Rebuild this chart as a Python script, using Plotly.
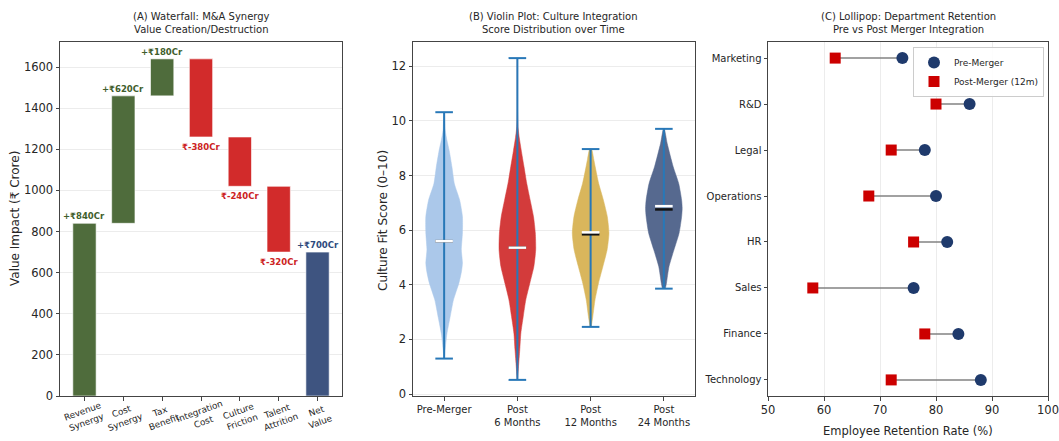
import plotly.graph_objects as go

# ---------------- Data ----------------
# (A) Waterfall
wf_categories = ["Revenue<br>Synergy", "Cost<br>Synergy", "Tax<br>Benefit", "Integration<br>Cost",
                 "Culture<br>Friction", "Talent<br>Attrition", "Net<br>Value"]
wf_changes = [840, 620, 180, -380, -240, -320]

# (B) Violin: density profiles (score level, relative width)
vio_groups = ["Pre-Merger", "Post<br>6 Months", "Post<br>12 Months", "Post<br>24 Months"]
vio_min = [1.30, 0.52, 2.46, 3.86]
vio_max = [10.32, 12.30, 8.97, 9.71]
vio_mean = [5.60, 5.36, 5.92, 6.88]
vio_median = [5.60, 5.36, 5.85, 6.76]
pre_levels = [1.3, 1.6, 2.2, 2.8, 3.45, 4.07, 4.5, 4.8, 5.28, 5.9, 6.5, 7.1, 7.7, 8.3, 8.9, 9.3, 9.66, 10.3]
pre_density = [0.01, 0.05, 0.15, 0.32, 0.51, 0.81, 0.95, 1.0, 0.94, 1.0, 1.0, 0.85, 0.56, 0.43, 0.28, 0.15, 0.06, 0.01]
p6_levels = [0.52, 1.0, 1.62, 2.23, 2.84, 3.45, 4.06, 4.67, 5.28, 5.9, 6.5, 7.1, 7.72, 8.33, 8.93, 9.4, 9.8, 10.5, 12.3]
p6_density = [0.01, 0.06, 0.13, 0.19, 0.32, 0.46, 0.68, 0.9, 1.0, 0.98, 0.88, 0.70, 0.51, 0.36, 0.21, 0.10, 0.03, 0.005, 0.0]
p12_levels = [2.46, 2.84, 3.45, 4.06, 4.67, 5.28, 5.89, 6.5, 7.1, 7.71, 8.32, 8.6, 8.97]
p12_density = [0.03, 0.12, 0.24, 0.43, 0.67, 0.9, 1.0, 0.91, 0.70, 0.44, 0.25, 0.17, 0.05]
p24_levels = [3.86, 4.06, 4.67, 5.28, 5.89, 6.5, 6.8, 7.1, 7.71, 8.32, 9.18, 9.71]
p24_density = [0.08, 0.14, 0.28, 0.55, 0.83, 0.97, 1.0, 0.97, 0.81, 0.51, 0.18, 0.02]
vio_colors = ["#abc8ea", "#d33b3b", "#d9b65c", "#56698f"]

# (C) Lollipop (bottom to top)
departments = ["Technology", "Finance", "Sales", "HR", "Operations", "Legal", "R&D", "Marketing"]
pre_merger = [88, 84, 76, 82, 80, 78, 86, 74]
post_merger = [72, 78, 58, 76, 68, 72, 80, 62]

FONT = "DejaVu Sans"
W, H = 1059, 441
TXT = "#262626"


def px_x(p):
    return p / W


def px_y(p):
    return 1 - p / H


fig = go.Figure()

# ---------------- (A) Waterfall ----------------
bases, heights, colors, label_y, label_anchor, label_col, labels = [], [], [], [], [], [], []
running = 0
for v in wf_changes:
    if v >= 0:
        bases.append(running)
        heights.append(v)
        colors.append("#4f6c3c")
        label_y.append(running + v)
        label_anchor.append("bottom")
        label_col.append("#3f5e2c")
        labels.append(f"+₹{v}Cr")
    else:
        bases.append(running + v)
        heights.append(-v)
        colors.append("#d22b2b")
        label_y.append(running + v)
        label_anchor.append("top")
        label_col.append("#cc2222")
        labels.append(f"₹{v}Cr")
    running += v
net = running
bases.append(0)
heights.append(net)
colors.append("#3e5480")
label_y.append(net)
label_anchor.append("bottom")
label_col.append("#2e4a7d")
labels.append(f"+₹{net}Cr")

xs_idx = list(range(len(wf_categories)))
fig.add_trace(go.Bar(x=xs_idx, y=heights, base=bases, width=0.6,
                     marker=dict(color=colors, line=dict(color="rgba(255,255,255,0.6)", width=1)),
                     xaxis="x", yaxis="y", showlegend=False, hoverinfo="skip"))

annotations = []
for i in xs_idx:
    annotations.append(dict(x=i, y=label_y[i], xref="x", yref="y", text=f"<b>{labels[i]}</b>",
                            showarrow=False, yanchor=label_anchor[i],
                            yshift=0 if label_anchor[i] == "bottom" else -3,
                            font=dict(size=8.5, color=label_col[i], family=FONT)))
    annotations.append(dict(x=i, y=px_y(416), xref="x", yref="paper", text=wf_categories[i],
                            showarrow=False, textangle=-20, xanchor="center", yanchor="middle",
                            font=dict(size=8.8, color=TXT, family=FONT)))

# ---------------- (B) Violins ----------------
profiles = [(pre_levels, pre_density), (p6_levels, p6_density), (p12_levels, p12_density), (p24_levels, p24_density)]
half_w = 0.25
for i, (lv, dn) in enumerate(profiles):
    pos = i + 1
    xs = [pos + half_w * d for d in dn] + [pos - half_w * d for d in reversed(dn)]
    ys = list(lv) + list(reversed(lv))
    fig.add_trace(go.Scatter(x=xs, y=ys, mode="lines", fill="toself", fillcolor=vio_colors[i],
                             line=dict(color=vio_colors[i], width=0.5, shape="spline", smoothing=0.6),
                             xaxis="x2", yaxis="y2", showlegend=False, hoverinfo="skip"))

cap = 0.12
wx, wy = [], []
for i in range(4):
    pos = i + 1
    wx += [pos, pos, None, pos - cap, pos + cap, None, pos - cap, pos + cap, None]
    wy += [vio_min[i], vio_max[i], None, vio_min[i], vio_min[i], None, vio_max[i], vio_max[i], None]
fig.add_trace(go.Scatter(x=wx, y=wy, mode="lines", line=dict(color="#2878b8", width=2),
                         xaxis="x2", yaxis="y2", showlegend=False, hoverinfo="skip"))

for vals, col in ((vio_median, "#111111"), (vio_mean, "#ffffff")):
    mx, my = [], []
    for i in range(4):
        pos = i + 1
        mx += [pos - cap, pos + cap, None]
        my += [vals[i], vals[i], None]
    fig.add_trace(go.Scatter(x=mx, y=my, mode="lines", line=dict(color=col, width=2.5),
                             xaxis="x2", yaxis="y2", showlegend=False, hoverinfo="skip"))

# ---------------- (C) Lollipop ----------------
ypos = list(range(len(departments)))
lx, ly = [], []
for i in ypos:
    lx += [post_merger[i], pre_merger[i], None]
    ly += [i, i, None]
fig.add_trace(go.Scatter(x=lx, y=ly, mode="lines", line=dict(color="rgba(130,130,130,0.75)", width=2),
                         xaxis="x3", yaxis="y3", showlegend=False, hoverinfo="skip"))
fig.add_trace(go.Scatter(x=pre_merger, y=ypos, mode="markers", name="Pre-Merger", legendrank=1,
                         marker=dict(symbol="circle", size=12, color="#1f3a6c"),
                         xaxis="x3", yaxis="y3"))
fig.add_trace(go.Scatter(x=post_merger, y=ypos, mode="markers", name="Post-Merger (12m)", legendrank=2,
                         marker=dict(symbol="square", size=11, color="#cc0000"),
                         xaxis="x3", yaxis="y3"))

# ---------------- Titles / labels ----------------
titles = [
    ("(A) Waterfall: M&A Synergy<br>Value Creation/Destruction", (60 + 342) / 2),
    ("(B) Violin Plot: Culture Integration<br>Score Distribution over Time", (413 + 695) / 2),
    ("(C) Lollipop: Department Retention<br>Pre vs Post Merger Integration", (768 + 1048) / 2),
]
for t, cx in titles:
    annotations.append(dict(x=px_x(cx), y=px_y(37), xref="paper", yref="paper", text=t, showarrow=False,
                            yanchor="bottom", xanchor="center",
                            font=dict(size=10, color=TXT, family=FONT)))
annotations.append(dict(x=px_x(15), y=px_y(219), xref="paper", yref="paper", text="Value Impact (₹ Crore)",
                        textangle=-90, showarrow=False, xanchor="center", yanchor="middle",
                        font=dict(size=12, color=TXT, family=FONT)))
annotations.append(dict(x=px_x(383), y=px_y(221), xref="paper", yref="paper", text="Culture Fit Score (0–10)",
                        textangle=-90, showarrow=False, xanchor="center", yanchor="middle",
                        font=dict(size=12, color=TXT, family=FONT)))
annotations.append(dict(x=px_x(908), y=px_y(431), xref="paper", yref="paper", text="Employee Retention Rate (%)",
                        showarrow=False, xanchor="center", yanchor="middle",
                        font=dict(size=11.5, color=TXT, family=FONT)))

ydom = [px_y(396), px_y(42)]
common = dict(showline=True, mirror=True, linecolor="#444444", linewidth=1, ticks="outside", ticklen=3.5,
              tickcolor="#444444", zeroline=False)
num_font = dict(size=11.5, family=FONT, color=TXT)
cat_font = dict(size=10, family=FONT, color=TXT)

fig.update_layout(
    width=W, height=H, margin=dict(l=0, r=0, t=0, b=0, autoexpand=False),
    paper_bgcolor="white", plot_bgcolor="white",
    font=dict(family=FONT, size=11, color=TXT),
    annotations=annotations,
    xaxis=dict(domain=[px_x(60), px_x(342)], range=[-0.63, 6.63], tickvals=xs_idx, showticklabels=False,
               showgrid=False, anchor="y", **common),
    yaxis=dict(domain=ydom, range=[0, 1722], tickvals=list(range(0, 1601, 200)), showgrid=True,
               gridcolor="#ececec", anchor="x", tickfont=num_font, **common),
    xaxis2=dict(domain=[px_x(413), px_x(695)], range=[0.575, 4.425], tickvals=[1, 2, 3, 4],
                ticktext=vio_groups, showgrid=False, anchor="y2", tickfont=cat_font, **common),
    yaxis2=dict(domain=ydom, range=[-0.07, 12.89], tickvals=list(range(0, 13, 2)), showgrid=True,
                gridcolor="#ececec", anchor="x2", tickfont=num_font, **common),
    xaxis3=dict(domain=[px_x(768), px_x(1048)], range=[50, 100], tickvals=list(range(50, 101, 10)),
                showgrid=True, gridcolor="#ececec", anchor="y3", tickfont=num_font, **common),
    yaxis3=dict(domain=ydom, range=[-0.35, 7.35], tickvals=ypos, ticktext=departments, showgrid=False,
                anchor="x3", tickfont=cat_font, **common),
    legend=dict(x=px_x(1044), y=px_y(47), xanchor="right", yanchor="top", bgcolor="rgba(255,255,255,0.9)",
                bordercolor="#cccccc", borderwidth=1, font=dict(size=9, family=FONT, color=TXT),
                tracegroupgap=0, itemwidth=30),
)

fig.write_html("out.html", config={"displayModeBar": False},
               post_script="document.body.style.margin='0';document.body.style.overflow='hidden';")
